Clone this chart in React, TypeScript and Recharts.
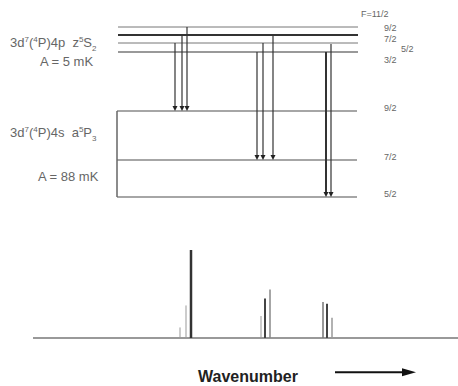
import React from "react";
import { ComposedChart, XAxis, YAxis, ReferenceLine, Scatter } from "recharts";

// upper term levels (diagram units, top = 0)
const upperLevels = [27, 35, 43, 52];
const upperWidths = [1, 2.2, 1, 1.6];
const upperLabels = [
  { text: "F=11/2", x: 361, y: 15 },
  { text: "9/2", x: 384, y: 29 },
  { text: "7/2", x: 384, y: 40 },
  { text: "5/2", x: 401, y: 50 },
  { text: "3/2", x: 384, y: 61 },
];

// lower term levels
const lowerLevels = [111, 160, 197];
const lowerLabels = ["9/2", "7/2", "5/2"];

// transitions: x position, upper level, lower level
const transX = [175, 182, 187, 257, 263, 273, 326, 331];
const transTop = [43, 35, 27, 52, 43, 35, 52, 44];
const transBottom = [111, 111, 111, 160, 160, 160, 197, 197];
const transWidth = [1.2, 1.2, 1.2, 1.2, 1.2, 1.2, 2, 1.2];

// spectrum
const peakX = [180, 186, 191, 261, 265, 270, 323, 327, 332];
const peakIntensity = [12, 37, 100, 25, 45, 55, 41, 39, 23];
const peakWidth = [1, 1, 2.5, 1, 2, 1.5, 1.5, 2, 1.5];
const peakColor = ["#999", "#999", "#333", "#999", "#444", "#888", "#777", "#444", "#999"];

const transData = transX.map((x, i) => ({ x, y: transBottom[i] }));
const peakData = peakX.map((x, i) => ({ x, y: peakIntensity[i] }));

const font = "'Liberation Sans', Arial, sans-serif";

const ArrowHead = (props: any) => {
  const { cx, cy } = props;
  return <polygon points={`${cx - 2.5},${cy - 5} ${cx + 2.5},${cy - 5} ${cx},${cy}`} fill="#222" />;
};

const HArrow = (props: any) => {
  const { x1, y1, x2, y2 } = props;
  return (
    <g>
      <line x1={x1} y1={y1} x2={x2 - 10} y2={y2} stroke="#111" strokeWidth={2} />
      <polygon points={`${x2 - 14},${y2 - 4} ${x2 - 14},${y2 + 4} ${x2},${y2}`} fill="#111" />
    </g>
  );
};

const txt = (extra: React.CSSProperties): React.CSSProperties => ({
  position: "absolute",
  fontFamily: font,
  color: "#666",
  whiteSpace: "nowrap",
  lineHeight: 1,
  ...extra,
});

const sup = { fontSize: 8 };

export default function App() {
  return (
    <div style={{ position: "absolute", left: 0, top: 0, width: 458, height: 386, background: "#fff" }}>
      <div style={{ position: "absolute", left: 0, top: 0 }}>
        <ComposedChart width={458} height={215} margin={{ top: 0, right: 0, bottom: 0, left: 0 }} data={transData}>
          <XAxis type="number" dataKey="x" domain={[0, 458]} hide />
          <YAxis type="number" dataKey="y" domain={[0, 215]} reversed hide />
          {upperLevels.map((y, i) => (
            <ReferenceLine
              key={`u${i}`}
              segment={[{ x: 118, y }, { x: 358, y }]}
              stroke={i === 1 ? "#333" : "#777"}
              strokeWidth={upperWidths[i]}
            />
          ))}
          {lowerLevels.map((y, i) => (
            <ReferenceLine
              key={`l${i}`}
              segment={[{ x: 117, y }, { x: 357, y }]}
              stroke="#888"
              strokeWidth={1.5}
            />
          ))}
          <ReferenceLine
            segment={[{ x: 117, y: lowerLevels[0] }, { x: 117, y: lowerLevels[2] }]}
            stroke="#666"
            strokeWidth={1.5}
          />
          {transX.map((x, i) => (
            <ReferenceLine
              key={`t${i}`}
              segment={[{ x, y: transTop[i] }, { x, y: transBottom[i] - 3 }]}
              stroke="#333"
              strokeWidth={transWidth[i]}
            />
          ))}
          <Scatter data={transData} dataKey="y" shape={ArrowHead} isAnimationActive={false} />
        </ComposedChart>
      </div>
      <div style={{ position: "absolute", left: 0, top: 215 }}>
        <ComposedChart width={458} height={171} margin={{ top: 35, right: 0, bottom: 48, left: 0 }} data={peakData}>
          <XAxis type="number" dataKey="x" domain={[0, 458]} hide />
          <YAxis type="number" dataKey="y" domain={[0, 100]} hide />
          <ReferenceLine segment={[{ x: 33, y: 0 }, { x: 458, y: 0 }]} stroke="#999" strokeWidth={2} />
          {peakX.map((x, i) => (
            <ReferenceLine
              key={`p${i}`}
              segment={[{ x, y: 0 }, { x, y: peakIntensity[i] }]}
              stroke={peakColor[i]}
              strokeWidth={peakWidth[i]}
            />
          ))}
          <ReferenceLine
            segment={[{ x: 335, y: -39 }, { x: 416, y: -39 }]}
            ifOverflow="visible"
            shape={HArrow}
          />
          <Scatter data={peakData} dataKey="y" shape={() => <g />} isAnimationActive={false} />
        </ComposedChart>
      </div>

      <div style={txt({ left: 10, top: 36, fontSize: 13 })}>
        3d<sup style={sup}>7</sup>(<sup style={sup}>4</sup>P)4p&nbsp;&nbsp;z<sup style={sup}>5</sup>S<sub style={sup}>2</sub>
      </div>
      <div style={txt({ left: 40, top: 55, fontSize: 13 })}>A = 5 mK</div>
      <div style={txt({ left: 10, top: 126, fontSize: 13 })}>
        3d<sup style={sup}>7</sup>(<sup style={sup}>4</sup>P)4s&nbsp;&nbsp;a<sup style={sup}>5</sup>P<sub style={sup}>3</sub>
      </div>
      <div style={txt({ left: 38, top: 170, fontSize: 13 })}>A = 88 mK</div>

      {upperLabels.map((l, i) => (
        <div key={`ul${i}`} style={txt({ left: l.x, top: l.y - 5, fontSize: 9 })}>{l.text}</div>
      ))}
      {lowerLevels.map((y, i) => (
        <div key={`ll${i}`} style={txt({ left: 384, top: y - 7, fontSize: 9 })}>{lowerLabels[i]}</div>
      ))}

      <div style={txt({ left: 198, top: 369, fontSize: 16, color: "#222", fontWeight: "bold" })}>Wavenumber</div>
    </div>
  );
}
